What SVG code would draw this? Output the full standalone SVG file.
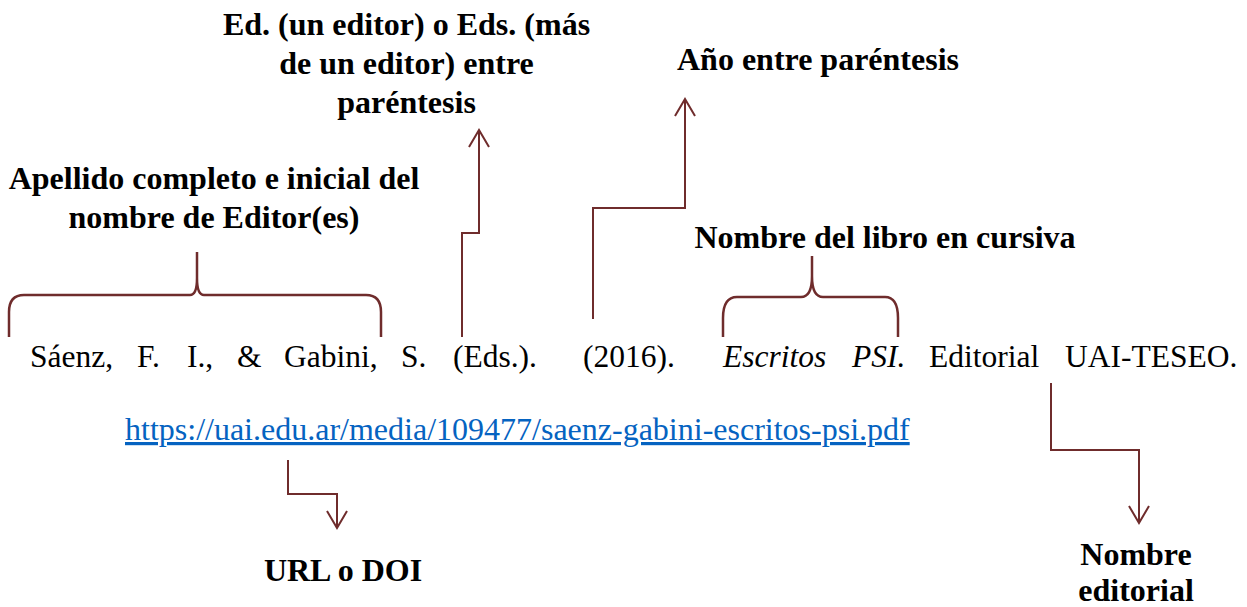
<svg xmlns="http://www.w3.org/2000/svg" width="1247" height="607" viewBox="0 0 1247 607">
<defs>
<style>
.lbl{font-family:"Liberation Serif","Times New Roman",serif;font-weight:bold;font-size:32px;fill:#000;text-anchor:middle}
.ref{font-family:"Liberation Serif","Times New Roman",serif;font-size:31.5px;fill:#000}
.it{font-style:italic}
.url{font-family:"Liberation Serif","Times New Roman",serif;font-size:32px;fill:#0563C1;text-decoration:underline}
.ln{fill:none;stroke:#6F2C2C;stroke-width:2}
.br{fill:none;stroke:#6F2C2C;stroke-width:2.5}
</style>
<marker id="arr" markerUnits="userSpaceOnUse" viewBox="-20 -20 40 40" markerWidth="40" markerHeight="40" refX="0" refY="0" orient="auto" overflow="visible">
<path d="M-17,-10 L0,0 L-17,10" fill="none" stroke="#6F2C2C" stroke-width="2"/>
</marker>
</defs>
<rect width="1247" height="607" fill="#fff"/>

<g id="referencia">
<text class="ref" y="367"><tspan x="30">Sáenz,</tspan><tspan x="137">F.</tspan><tspan x="187">I.,</tspan><tspan x="237">&amp;</tspan><tspan x="284">Gabini,</tspan><tspan x="401">S.</tspan><tspan x="453">(Eds.).</tspan><tspan x="583">(2016).</tspan><tspan x="723" class="it">Escritos</tspan><tspan x="852" class="it">PSI.</tspan><tspan x="929">Editorial</tspan><tspan x="1065">UAI-TESEO.</tspan></text>
<text class="url" x="125" y="440">https://uai.edu.ar/media/109477/saenz-gabini-escritos-psi.pdf</text>
</g>

<g id="label-editores">
<text class="lbl" x="214" y="189">Apellido completo e inicial del</text>
<text class="lbl" x="214" y="228">nombre de Editor(es)</text>
</g>
<g id="label-eds">
<text class="lbl" x="406.5" y="35">Ed. (un editor) o Eds. (más</text>
<text class="lbl" x="406.5" y="74">de un editor) entre</text>
<text class="lbl" x="406.5" y="113">paréntesis</text>
</g>
<g id="label-anio">
<text class="lbl" x="818" y="70">Año entre paréntesis</text>
</g>
<g id="label-libro">
<text class="lbl" x="885" y="248">Nombre del libro en cursiva</text>
</g>
<g id="label-url">
<text class="lbl" x="343" y="581">URL o DOI</text>
</g>
<g id="label-editorial">
<text class="lbl" x="1136" y="565">Nombre</text>
<text class="lbl" x="1136" y="601">editorial</text>
</g>

<g id="connectors">
<path class="br" d="M9,337 V312 Q9,295 24,295 H190 Q197,295 197,278 V252 M197,278 Q197,295 204,295 H366 Q381,295 381,312 V337"/>
<path class="br" d="M723,337 V318 Q723,297 737,297 H801 Q812,297 812,276 V256 M812,276 Q812,297 823,297 H885 Q898,297 898,318 V337"/>
<path class="ln" marker-end="url(#arr)" d="M462,337 V233 H479 V130"/>
<path class="ln" marker-end="url(#arr)" d="M593,319 V208 H685 V99"/>
<path class="ln" marker-end="url(#arr)" d="M288,460 V494 H337 V528"/>
<path class="ln" marker-end="url(#arr)" d="M1051,383 V450 H1139 V523"/>
</g>
</svg>
